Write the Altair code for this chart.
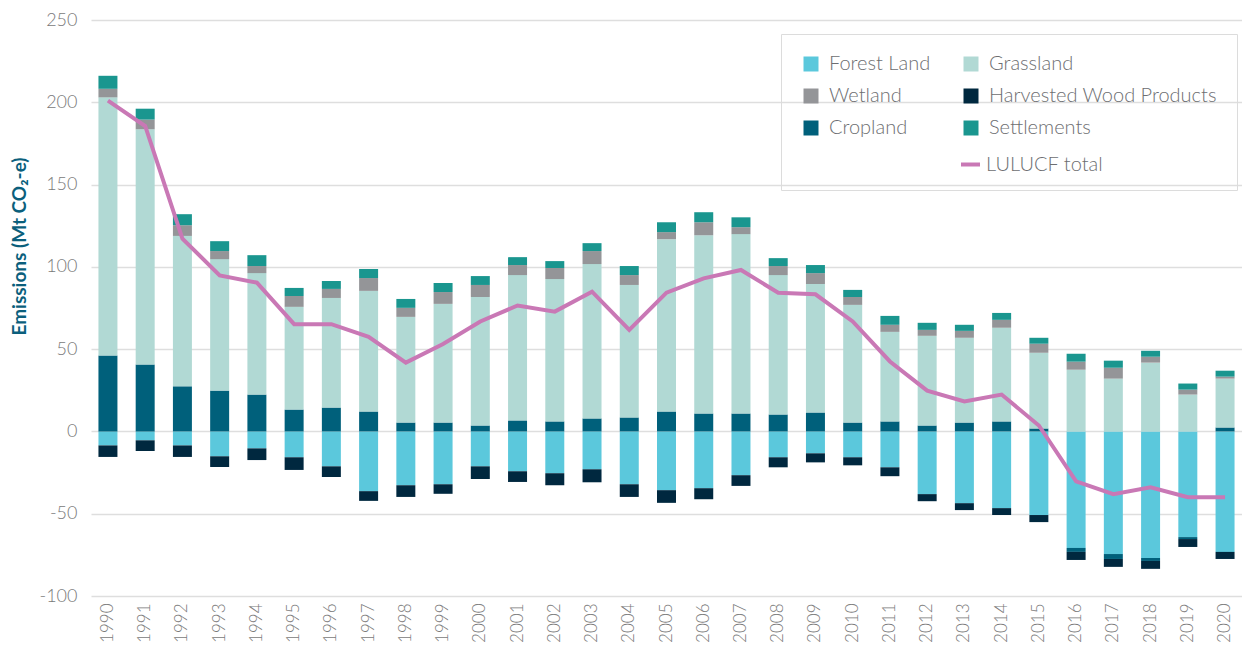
import altair as alt
import pandas as pd

years = [str(y) for y in range(1990, 2021)]

forest_land = [-8.5, -5.4, -8.5, -15.1, -10.3, -15.7, -21.2, -36.3, -32.7, -32.1,
               -21.2, -24.2, -25.4, -23.0, -32.1, -35.7, -34.5, -26.6, -15.7, -13.3,
               -15.7, -21.8, -38.1, -43.6, -46.6, -50.8, -70.8, -74.5, -76.9, -64.2, -73.2]
cropland = [46.2, 40.7, 27.4, 24.8, 22.4, 13.3, 14.5, 12.1, 5.4, 5.4,
            3.6, 6.7, 6.1, 7.9, 8.5, 12.1, 10.9, 10.9, 10.3, 11.5,
            5.4, 6.1, 3.6, 5.4, 6.1, 1.8, -2.4, -3.0, -1.8, -1.2, 2.4]
grassland = [156.8, 142.9, 91.4, 79.9, 73.8, 62.4, 66.6, 73.3, 64.2, 72.1,
             78.1, 88.3, 86.5, 93.8, 80.5, 104.7, 108.3, 109.0, 84.7, 78.1,
             71.5, 54.4, 54.5, 51.5, 56.9, 46.0, 37.5, 32.1, 41.8, 22.4, 29.7]
wetland = [5.2, 5.9, 6.5, 4.9, 4.3, 6.6, 5.5, 7.8, 5.5, 7.2,
           7.3, 6.1, 6.7, 7.9, 6.0, 4.3, 7.9, 4.2, 5.5, 6.6,
           4.8, 4.3, 3.6, 4.2, 4.8, 5.5, 4.9, 6.6, 3.6, 3.0, 1.2]
settlements = [7.9, 6.6, 6.7, 6.0, 6.6, 4.9, 4.8, 5.5, 5.4, 5.5,
               5.4, 4.8, 4.2, 4.8, 5.5, 6.0, 6.1, 6.0, 4.8, 4.9,
               4.3, 5.4, 4.3, 3.7, 4.2, 3.6, 4.8, 4.3, 3.6, 3.7, 3.6]
harvested_wood = [-7.0, -6.5, -7.0, -6.5, -7.1, -7.7, -6.5, -5.9, -7.1, -5.8,
                  -7.7, -6.5, -7.3, -7.9, -7.7, -7.7, -6.7, -6.5, -6.1, -5.5,
                  -4.9, -5.4, -4.3, -4.2, -4.2, -4.3, -4.9, -4.8, -4.8, -4.8, -4.3]
lulucf_total = [201.0, 185.6, 117.2, 94.8, 90.4, 65.2, 65.2, 57.5, 41.8, 53.1,
                66.8, 76.5, 72.8, 84.9, 61.7, 84.3, 93.0, 98.1, 84.3, 83.3,
                66.8, 42.5, 24.8, 18.2, 22.4, 3.6, -30.3, -38.1, -33.9, -40.0, -40.0]

stack_order = ["Forest Land", "Cropland", "Grassland", "Wetland", "Settlements",
               "Harvested Wood Products"]
series_values = [forest_land, cropland, grassland, wetland, settlements, harvested_wood]

# legend is filled column by column: left column, then right column
legend_domain = ["Forest Land", "Wetland", "Cropland", " ",
                 "Grassland", "Harvested Wood Products", "Settlements", "  "]
legend_colors = ["#5bc8dc", "#949598", "#00607b", "rgba(0,0,0,0)",
                 "#b1d9d4", "#00283f", "#1a968f", "rgba(0,0,0,0)"]

rows = []
for name, vals in zip(stack_order, series_values):
    for yr, v in zip(years, vals):
        rows.append({"year": yr, "series": name, "value": v,
                     "order": stack_order.index(name)})
bars_df = pd.DataFrame(rows)
line_df = pd.DataFrame({"year": years, "series": "LULUCF total", "value": lulucf_total})

FONT = "Lato"
GREY = "#7a7a7a"

x_enc = alt.X("year:N", title=None,
              scale=alt.Scale(paddingInner=0.49, paddingOuter=0.2),
              axis=alt.Axis(labelAngle=-90, labelFontSize=17, labelColor=GREY,
                            labelFont=FONT, labelFontWeight=300, labelPadding=7,
                            domain=False, ticks=False, grid=False))

y_scale = alt.Scale(domain=[-100, 250], nice=False)
y_axis = alt.Axis(values=[-100, -50, 0, 50, 100, 150, 200, 250],
                  labelExpr="datum.value + ''",
                  grid=True, gridColor="#dedede", gridWidth=1.5,
                  domain=False, ticks=False, labelPadding=14,
                  labelFontSize=18, labelColor=GREY, labelFont=FONT, labelFontWeight=300,
                  title="Emissions (Mt CO\u2082-e)", titleFont=FONT, titleFontSize=19,
                  titleFontWeight="bold", titleColor="#0b5f7c",
                  titleX=-72, titleY=226, titleAngle=-90,
                  titleAlign="center", titleBaseline="middle")

bars = alt.Chart(bars_df).mark_bar().encode(
    x=x_enc,
    y=alt.Y("value:Q", scale=y_scale, axis=y_axis, stack="zero"),
    color=alt.Color("series:N",
                    scale=alt.Scale(domain=legend_domain, range=legend_colors),
                    legend=alt.Legend(title=None, orient="none", legendX=690, legendY=14,
                                      columns=2, symbolType="square", symbolSize=225,
                                      symbolStrokeWidth=0,
                                      labelFont=FONT, labelFontSize=20, labelColor="#6d6e71",
                                      labelFontWeight=300, labelLimit=400,
                                      labelOffset=8, rowPadding=12, columnPadding=30,
                                      padding=20, strokeColor="#dcdcdc")),
    order=alt.Order("order:Q"),
)

line = alt.Chart(line_df).mark_line(strokeWidth=4).encode(
    x=alt.X("year:N"),
    y=alt.Y("value:Q"),
    stroke=alt.Stroke("series:N",
                      scale=alt.Scale(domain=["LULUCF total"], range=["#c978b5"]),
                      legend=alt.Legend(title=None, orient="none", legendX=868, legendY=133,
                                        symbolType="stroke", symbolSize=361,
                                        symbolStrokeWidth=4,
                                        labelFont=FONT, labelFontSize=20, labelColor="#6d6e71",
                                        labelFontWeight=300, labelOffset=4, padding=0)),
)

chart = alt.layer(bars, line).properties(
    width=1151, height=576,
    autosize=alt.AutoSizeParams(type="none"),
    padding={"left": 83, "top": 12, "right": 0, "bottom": 55},
).configure_view(stroke=None)

chart.save("out.html", embed_options={"renderer": "svg", "actions": False})
